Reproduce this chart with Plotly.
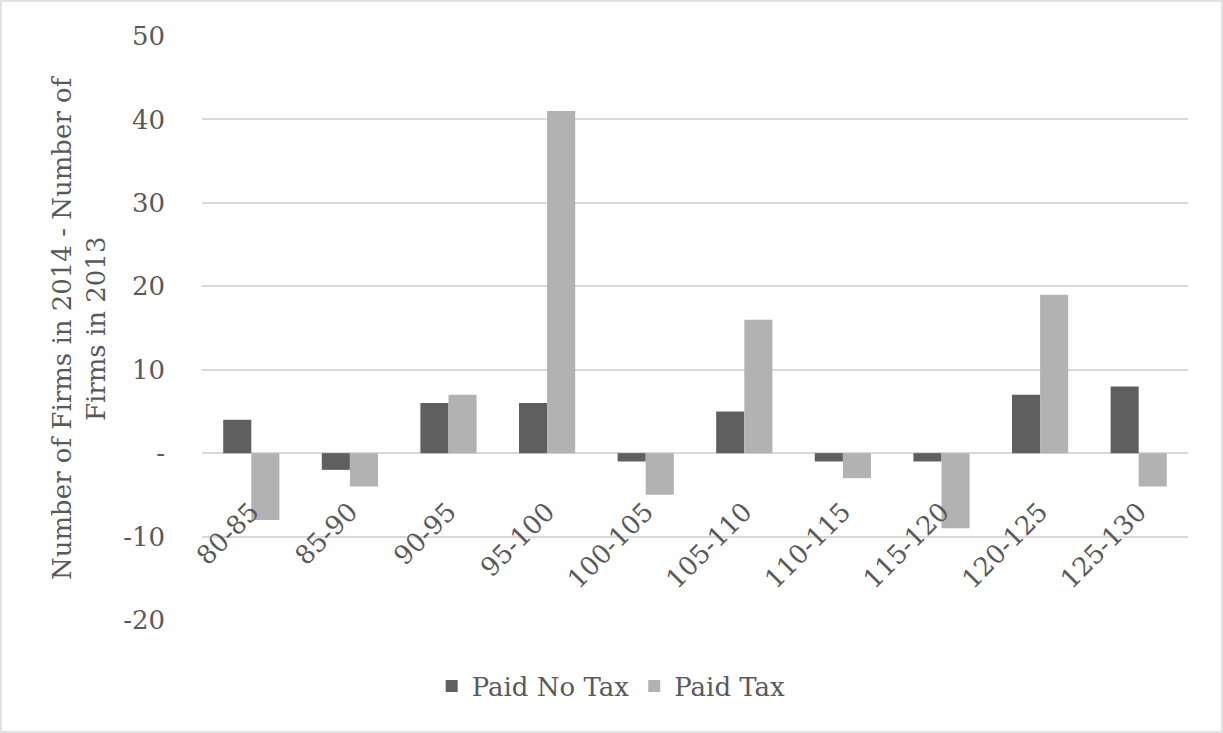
import plotly.graph_objects as go

categories = ["80-85", "85-90", "90-95", "95-100", "100-105", "105-110",
              "110-115", "115-120", "120-125", "125-130"]
paid_no_tax = [4, -2, 6, 6, -1, 5, -1, -1, 7, 8]
paid_tax = [-8, -4, 7, 41, -5, 16, -3, -9, 19, -4]
y_tick_vals = [-20, -10, 0, 10, 20, 30, 40, 50]
y_tick_text = ["-20", "-10", "-", "10", "20", "30", "40", "50"]

FONT = "DejaVu Serif"
FS = 26
TXT = "#595959"
GRID = "#d9d9d9"
y_min, y_max = -20, 50

fig = go.Figure()
fig.add_trace(go.Bar(x=categories, y=paid_no_tax, name="Paid No Tax",
                     marker=dict(color="#5f5f5f", line=dict(width=0))))
fig.add_trace(go.Bar(x=categories, y=paid_tax, name="Paid Tax",
                     marker=dict(color="#b2b2b2", line=dict(width=0))))

zero_pos = (0 - y_min) / (y_max - y_min)

fig.update_layout(
    width=1223, height=733,
    margin=dict(l=202, r=35, t=36, b=113),
    paper_bgcolor="white", plot_bgcolor="white",
    barmode="group", bargap=0.43, bargroupgap=0,
    font=dict(family=FONT, color=TXT, size=FS),
    showlegend=True,
    legend=dict(orientation="h", x=0.415, xanchor="center", y=-0.113, yanchor="middle",
                font=dict(family=FONT, size=FS, color=TXT), itemwidth=30,
                traceorder="normal"),
    xaxis=dict(anchor="free", position=zero_pos, tickangle=-45,
               showgrid=False, showline=False, ticks="outside", ticklen=32,
               tickcolor="rgba(0,0,0,0)",
               tickfont=dict(family=FONT, size=FS, color=TXT)),
    yaxis=dict(range=[y_min, y_max], tickvals=y_tick_vals, ticktext=y_tick_text,
               showgrid=True, gridcolor=GRID, gridwidth=1.5,
               zeroline=True, zerolinecolor=GRID, zerolinewidth=1.5,
               showline=False, ticks="", ticklabelstandoff=36,
               tickfont=dict(family=FONT, size=FS, color=TXT)),
)

fig.add_annotation(text="Number of Firms in 2014 - Number of<br>Firms in 2013",
                   xref="paper", yref="paper", x=-0.1247, y=0.5,
                   xanchor="center", yanchor="middle", textangle=-90,
                   showarrow=False, font=dict(family=FONT, size=FS, color=TXT))

# outer chart border
fig.add_shape(type="rect", xref="paper", yref="paper",
              x0=-201/986, x1=1+34/986, y0=-112/584, y1=1+35/584,
              line=dict(color=GRID, width=1.5), fillcolor="rgba(0,0,0,0)", layer="below")

fig.write_html("out.html")
